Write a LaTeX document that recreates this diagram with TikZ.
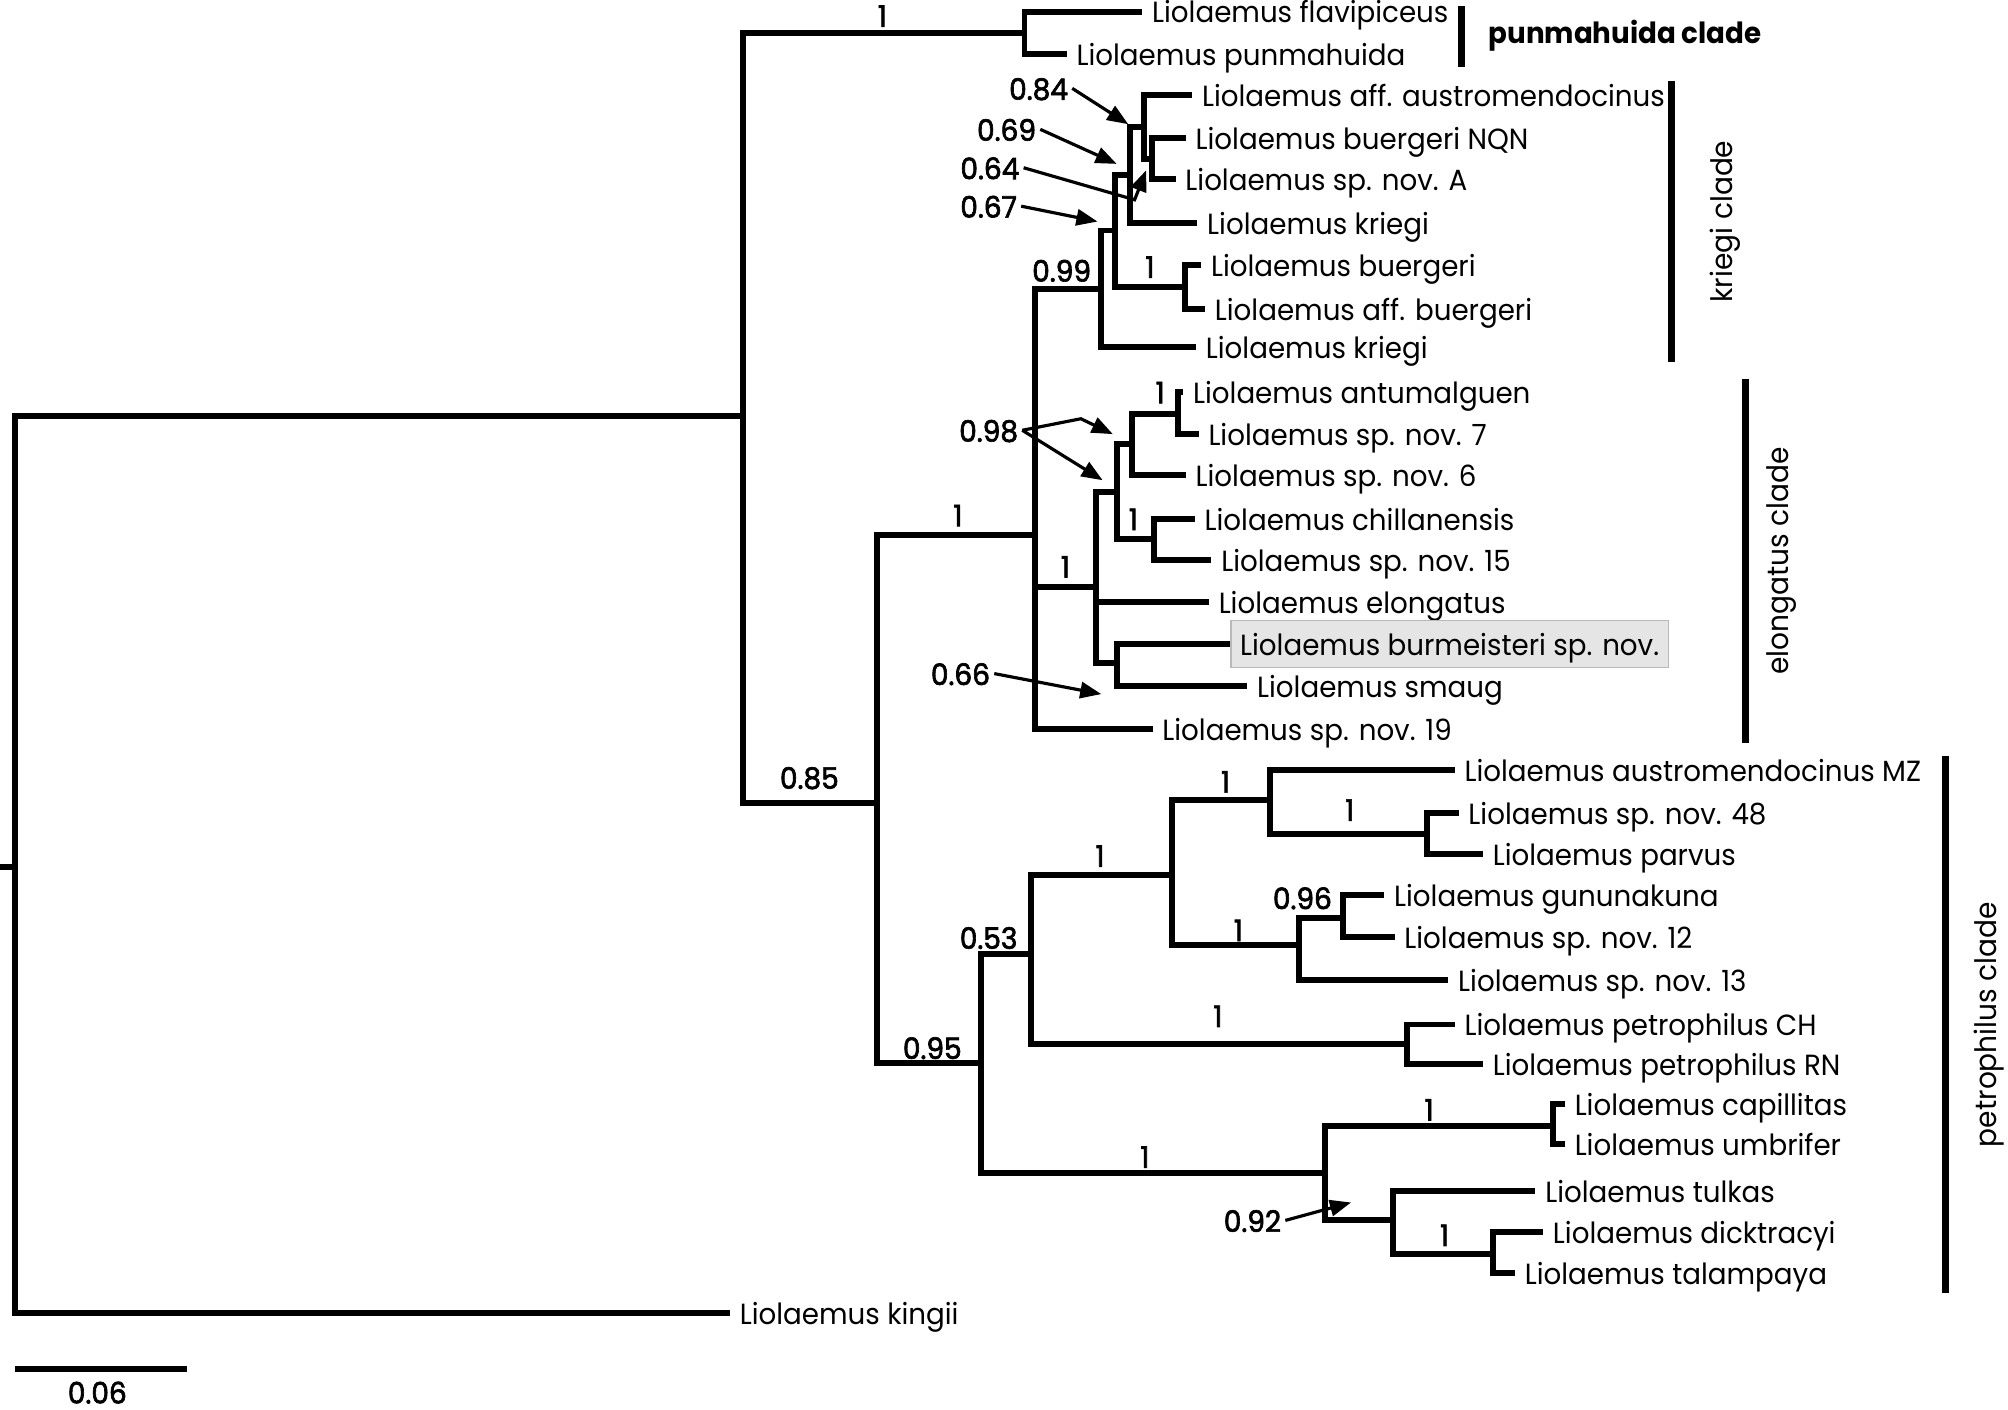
\documentclass[tikz,border=0pt]{standalone}
\usepackage{fontspec}
\setmainfont{Poppins}[FakeStretch=0.95]
\newfontfamily\suppfont{Poppins}[FakeStretch=0.95,FakeBold=2.2]
\usetikzlibrary{arrows.meta}

\begin{document}
\begin{tikzpicture}[x=0.012806cm,y=-0.012806cm,
  branch/.style={line width=1.7pt,line join=miter},
  leaf/.style={anchor=west,inner xsep=2.6pt,inner ysep=0pt,text height=0.75em,text depth=0.1em,font=\fontsize{8.3}{10}\selectfont},
  supp/.style={inner sep=1pt,text height=0.75em,text depth=0.1em,font=\fontsize{8.4}{10}\selectfont\suppfont},
  clade/.style={rotate=90,font=\fontsize{8.4}{10}\selectfont},
  bar/.style={line width=1.9pt},
  pointer/.style={line width=0.9pt,-{Triangle[length=6pt,width=4.6pt]}}]
  \useasboundingbox (0,0) rectangle (1568,1101);
  % internal nodes of the tree
  \foreach \n/\x/\y in {root/12/677,n1/580/325,tp/800/26,n2/685/627,n3/808/418,
      f/860/226,d/871/180,c/882/137,a/893/99,b/899.5/124,e/925/224,
      g/856/458,h/872/384,j/884/347,l/920/323,k/901/421,i/872/518,
      m/766/830,nn/805/745,o/915/683,p/992/625,q/1114/651,r/1014/738,s/1049/717,
      t/1099/815,u/1035/916,v/1213/879,w/1088/953,x/1166/979}
    \coordinate (\n) at (\x,\y);
  % terminal taxa
  \foreach \n/\x/\y/\t in {fl/892/9/flavipiceus,pu/833/42/punmahuida,
      aau/931/74/aff. austromendocinus,bnqn/926/108/buergeri NQN,spA/918/140/sp. nov. A,
      kr1/935/174/kriegi,bu/938/207/buergeri,abu/941/241/aff. buergeri,kr2/934/271/kriegi,
      ant/924/306/antumalguen,sp7/936/339/sp. nov. 7,sp6/926/371/sp. nov. 6,
      chi/933/405/chillanensis,sp15/946/437/sp. nov. 15,elo/944/470/elongatus,
      sma/974/536/smaug,sp19/900/569/sp. nov. 19,
      amz/1136/601/austromendocinus MZ,sp48/1139/635/sp. nov. 48,par/1158/667/parvus,
      gun/1081/699/gununakuna,sp12/1089/732/sp. nov. 12,sp13/1131/765/sp. nov. 13,
      pch/1136/800/petrophilus CH,prn/1158/831/petrophilus RN,
      cap/1222/862/capillitas,umb/1222/893/umbrifer,tul/1199/930/tulkas,
      dic/1205/962/dicktracyi,tal/1183/994/talampaya,kin/570/1025/kingii}
    \node[leaf] (\n) at (\x,\y) {Liolaemus \t};
  \node[leaf,draw=gray!55,fill=gray!20,inner xsep=2.6pt,inner ysep=2.4pt,xshift=1pt] (bur) at (958,503) {Liolaemus burmeisteri sp. nov.};

  \foreach \p/\c in {root/n1,n1/tp,n1/n2,n2/n3,n2/m,n3/f,n3/g,f/d,d/c,d/e,c/a,a/b,
      g/h,g/i,h/j,h/k,j/l,m/nn,m/u,nn/o,nn/t,o/p,o/r,p/q,r/s,u/v,u/w,w/x}
    \draw[branch] (\p) |- (\c);
  \foreach \p/\c in {root/kin,tp/fl,tp/pu,n3/sp19,f/kr2,c/kr1,a/aau,b/bnqn,b/spA,e/bu,e/abu,
      g/elo,i/bur,i/sma,j/sp6,l/ant,l/sp7,k/chi,k/sp15,p/amz,q/sp48,q/par,r/sp13,
      s/gun,s/sp12,t/pch,t/prn,v/cap,v/umb,w/tul,x/dic,x/tal}
    \draw[branch] (\p) |- (\c.west);
  \coordinate (rt) at (0,677);
  \draw[branch] (rt) -- (root);

  % posterior probabilities
  \foreach \n/\x/\y/\t in {pA/689/12/1,p85/632/607/0.85,pB/748/402/1,p99/829/211/0.99,
      pC/898/208/1,pD/832/442/1,pE/906/306/1,pF/885/405/1,p95/728/818/0.95,
      p53/772/732/0.53,pG/859/668/1,pH/957/610/1,pI/1054/632/1,pJ/967/726/1,
      p96/1017/701/0.96,pK/951/793/1,pL/894/903/1,pM/1116/866/1,pN/1128/964/1,
      p84/811/69/0.84,p69/786/101/0.69,p64/773/131/0.64,p67/772/161/0.67,
      p98/772/336/0.98,p66/750/526/0.66,p92/978/953/0.92}
    \node[supp] (\n) at (\x,\y) {\t};

  \coordinate (t84) at (881,97);
  \coordinate (t69) at (872,128);
  \coordinate (k64) at (886,156);
  \coordinate (t64) at (895,133);
  \coordinate (t67) at (857,173);
  \coordinate (k98) at (844,327);
  \coordinate (t98) at (869,339);
  \coordinate (u98) at (861,375);
  \coordinate (t66) at (860,542);
  \coordinate (t92) at (1055,939);
  \draw[pointer] (p84.east) -- (t84);
  \draw[pointer] (p69.east) -- (t69);
  \draw[pointer] (p64.east) -- (k64) -- (t64);
  \draw[pointer] (p67.east) -- (t67);
  \draw[pointer] (p98.east) -- (k98) -- (t98);
  \draw[pointer] (p98.east) -- (u98);
  \draw[pointer] (p66.east) -- (t66);
  \draw[pointer] (p92.east) -- (t92);

  % clade bars
  \foreach \n/\x/\ya/\yb in {pb/1141/5/52,kb/1305/63/283,eb/1363/296/580,tb/1519/590/1010}{
    \coordinate (\n1) at (\x,\ya);
    \coordinate (\n2) at (\x,\yb);
    \draw[bar] (\n1) -- (\n2);
  }
  \node[font=\fontsize{8.3}{10}\selectfont\bfseries] (pcl) at (1269,28) {punmahuida clade};
  \node[clade] (kcl) at (1347,173) {kriegi clade};
  \node[clade] (ecl) at (1391,438) {elongatus clade};
  \node[clade] (tcl) at (1553,800) {petrophilus clade};

  % scale bar
  \coordinate (sb0) at (12,1069);
  \coordinate (sb1) at (146,1069);
  \draw[line width=1.9pt] (sb0) -- (sb1);
  \node[supp] (sbl) at (76,1087) {0.06};
\end{tikzpicture}
\end{document}
